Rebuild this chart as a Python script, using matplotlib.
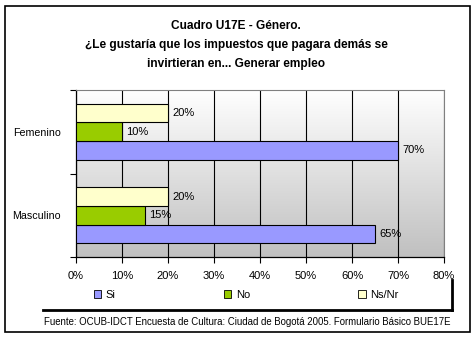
import matplotlib
matplotlib.use("Agg")
import matplotlib.pyplot as plt
import numpy as np
from matplotlib.patches import Rectangle, Patch
from matplotlib.lines import Line2D
from matplotlib.colors import LinearSegmentedColormap

plt.rcParams['font.family'] = ['Liberation Sans', 'DejaVu Sans']

# data
categories = ['Masculino', 'Femenino']
series = ['Si', 'No', 'Ns/Nr']
si_vals = [65, 70]
no_vals = [15, 10]
nsnr_vals = [20, 20]
colors = ['#9999FF', '#99CC00', '#FFFFCC']
xticks = [0, 10, 20, 30, 40, 50, 60, 70, 80]

title = ("Cuadro U17E - Género.\n"
         "¿Le gustaría que los impuestos que pagara demás se\n"
         "invirtieran en... Generar empleo")
source = "Fuente: OCUB-IDCT Encuesta de Cultura: Ciudad de Bogotá 2005. Formulario Básico BUE17E"

W, H = 477, 339
fig = plt.figure(figsize=(W / 100, H / 100), dpi=100)
fig.patch.set_facecolor('white')

# outer border
fig.patches.append(Rectangle((5 / W, 1 - 332 / H), 465 / W, 326 / H, transform=fig.transFigure,
                             fill=False, edgecolor='black', linewidth=1.2))

ax = fig.add_axes([76 / W, 1 - 257 / H, (444 - 76) / W, (257 - 90) / H])

# gradient background, white on top to grey at the bottom
grad = np.linspace(0, 1, 256).reshape(-1, 1)
cmap = LinearSegmentedColormap.from_list('bg', ['#ffffff', '#c0c0c0'])
ax.imshow(grad, aspect='auto', cmap=cmap, extent=[0, 80, -0.5, 1.5], zorder=0,
          origin='upper')

y = np.arange(len(categories))
h = 0.224
vals = [si_vals, no_vals, nsnr_vals]
offsets = [-h, 0, h]
for v, c, off, name in zip(vals, colors, offsets, series):
    bars = ax.barh(y + off, v, height=h, color=c, edgecolor='black', linewidth=0.8,
                   zorder=3, label=name)
    for b, val in zip(bars, v):
        ax.text(val + 0.9, b.get_y() + h / 2, f"{val}%", va='center', ha='left',
                fontsize=8, zorder=4)

ax.set_xlim(0, 80)
ax.set_ylim(-0.5, 1.5)
ax.set_xticks(xticks)
ax.set_xticklabels([f"{t}%" for t in xticks], fontsize=8)
ax.xaxis.grid(True, color='black', linewidth=0.8, zorder=1)
ax.set_axisbelow(True)
ax.set_yticks(y)
ax.set_yticklabels(categories, fontsize=7.7)
ax.set_yticks([-0.5, 0.5, 1.5], minor=True)
ax.tick_params(axis='y', which='major', length=0, pad=11)
ax.tick_params(axis='y', which='minor', length=4, width=0.8)
ax.tick_params(axis='x', length=4, width=0.8, pad=6)
ax.spines['left'].set_linewidth(0.9)
ax.spines['bottom'].set_linewidth(0.9)
ax.spines['top'].set_color('#808080')
ax.spines['right'].set_color('#808080')

fig.text(236 / W, 1 - 45 / H, title, ha='center', va='center', fontsize=8.6,
         fontweight='bold', linespacing=1.75)

handles = [Patch(facecolor=c, edgecolor='black', linewidth=0.6) for c in colors]
leg = fig.legend(handles, series, loc='center', bbox_to_anchor=(246 / W, 1 - 295 / H),
                 ncol=3, frameon=False, fontsize=8, handlelength=0.7, handleheight=0.7,
                 handletextpad=0.4, columnspacing=9.7, borderpad=0)

# legend shadow lines
fig.add_artist(Line2D([43 / W, 452 / W], [1 - 310 / H, 1 - 310 / H], transform=fig.transFigure,
                      color='black', linewidth=2))
fig.add_artist(Line2D([452 / W, 452 / W], [1 - 310 / H, 1 - 280 / H], transform=fig.transFigure,
                      color='black', linewidth=2))

fig.text(247 / W, 1 - 322 / H, source, ha='center', va='center', fontsize=6.9)

fig.savefig('out.png', dpi=100)
